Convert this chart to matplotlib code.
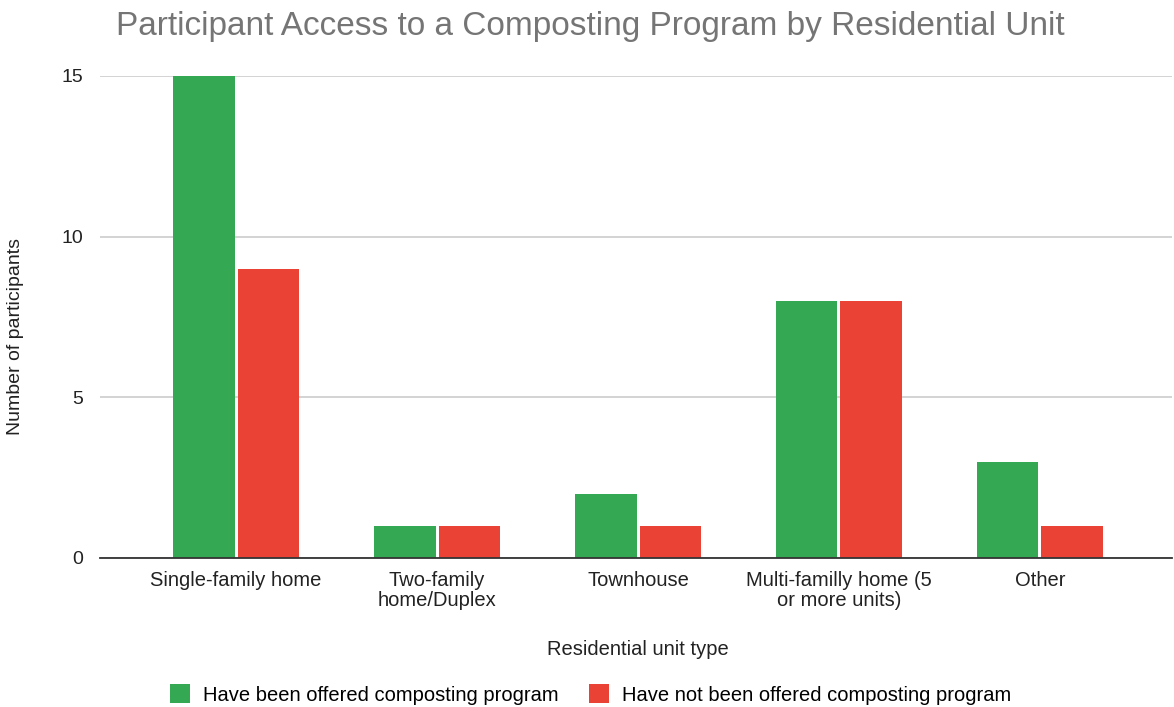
import matplotlib.pyplot as plt
import numpy as np

categories = [
    "Single-family home",
    "Two-family\nhome/Duplex",
    "Townhouse",
    "Multi-familly home (5\nor more units)",
    "Other",
]
offered = [15, 1, 2, 8, 3]
not_offered = [9, 1, 1, 8, 1]
series_labels = [
    "Have been offered composting program",
    "Have not been offered composting program",
]
yticks = [0, 5, 10, 15]

GREEN = "#34a853"
RED = "#ea4335"

plt.rcParams["font.family"] = ["Liberation Sans", "DejaVu Sans"]

fig = plt.figure(figsize=(11.74, 7.07), dpi=100)
ax = fig.add_axes([100 / 1174, 149 / 707, 1072 / 1174, 482 / 707])

x = np.arange(len(categories))
width = 0.305
ax.bar(x - 0.16, offered, width, color=GREEN, label=series_labels[0], zorder=3)
ax.bar(x + 0.16, not_offered, width, color=RED, label=series_labels[1], zorder=3)

ax.set_xlim(-0.677, 4.657)
ax.set_ylim(0, 15)
ax.set_yticks(yticks)
ax.set_xticks(x)
ax.set_xticklabels(categories, fontsize=14.5, color="#222222", linespacing=1.1)
ax.tick_params(axis="y", labelsize=14, labelcolor="#222222", length=0, pad=12)
ax.tick_params(axis="x", length=0, pad=9)

ax.grid(axis="y", color="#cccccc", linewidth=1.2, zorder=0)
for side in ["top", "right", "left"]:
    ax.spines[side].set_visible(False)
ax.spines["bottom"].set_color("#333333")
ax.spines["bottom"].set_linewidth(1.3)
ax.spines["bottom"].set_zorder(4)

ax.set_ylabel("Number of participants", fontsize=14, color="#222222")
ax.yaxis.set_label_coords(-76 / 1072, 0.46)
ax.set_xlabel("Residential unit type", fontsize=14.5, color="#222222")
ax.xaxis.set_label_coords((638 - 100) / 1072, -82 / 482)

fig.suptitle(
    "Participant Access to a Composting Program by Residential Unit",
    x=0.503, y=0.984, fontsize=24, color="#757575", va="top",
)

fig.legend(
    loc="center", bbox_to_anchor=(0.503, 0.018), ncol=2, frameon=False,
    fontsize=14.5, handlelength=1.0, handleheight=1.1, columnspacing=1.5,
    handletextpad=0.65,
)

fig.savefig("out.png", dpi=100)
